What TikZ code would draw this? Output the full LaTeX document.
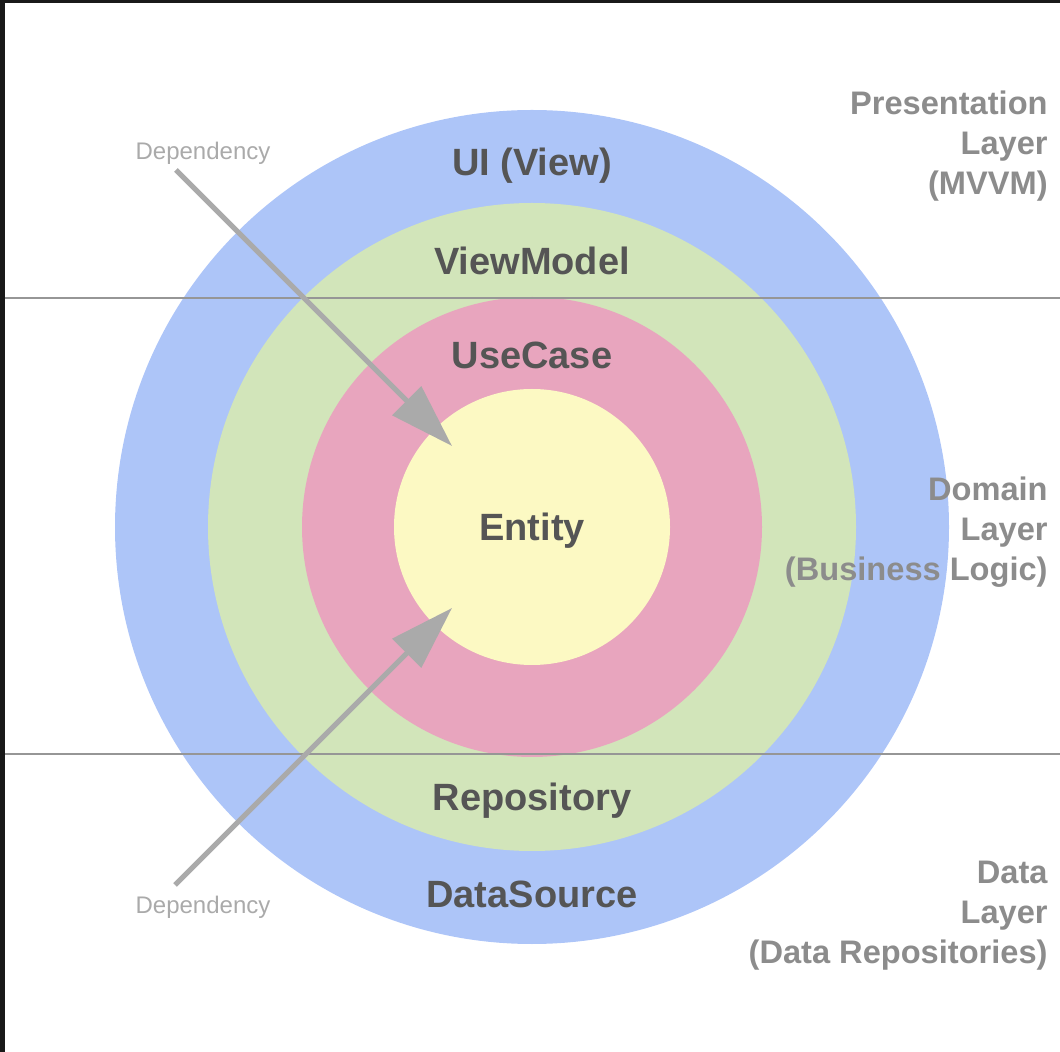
\documentclass[tikz,border=0pt]{standalone}
\usepackage{fontspec}
\setmainfont{Liberation Sans}
\usepackage{xcolor}
\usepackage{tikz}
\usetikzlibrary{arrows.meta,positioning}
\definecolor{ringblue}{RGB}{173,197,248}
\definecolor{ringgreen}{RGB}{210,229,186}
\definecolor{ringpink}{RGB}{232,165,190}
\definecolor{ringyellow}{RGB}{252,249,195}
\definecolor{labelgray}{RGB}{85,85,85}
\definecolor{layergray}{RGB}{140,140,140}
\definecolor{depgray}{RGB}{170,170,170}
\definecolor{rulegray}{RGB}{150,150,150}

\begin{document}
\begin{tikzpicture}[x=0.5pt,y=0.5pt,
  ring/.style={circle,draw=none,inner sep=0pt},
  ringlabel/.style={font=\bfseries\fontsize{19}{22}\selectfont,text=labelgray},
  layerlabel/.style={font=\bfseries\fontsize{16.3}{20}\selectfont,text=layergray,align=right,anchor=east,inner sep=0pt},
  deplabel/.style={font=\fontsize{12}{14}\selectfont,text=depgray},
  dep/.style={depgray,line width=2.5pt,-{Triangle[length=32pt,width=20pt]}}]
  \useasboundingbox (0,0) rectangle (1060,-1052);
  % frame edges
  \fill[black!90] (0,0) rectangle (1060,-3);
  \fill[black!90] (0,0) rectangle (5,-1052);
  % rings
  \node[ring,fill=ringblue,minimum size=417pt] (outer) at (532,-527) {};
  \node[ring,fill=ringgreen,minimum size=324pt] (second) at (532,-527) {};
  \node[ring,fill=ringpink,minimum size=230pt] (third) at (532,-527) {};
  \node[ring,fill=ringyellow,minimum size=138pt] (core) at (532,-527) {};
  % ring labels
  \node[ringlabel] (ui) at (532,-166) {UI (View)};
  \node[ringlabel] (vm) at (532,-261) {ViewModel};
  \node[ringlabel] (uc) at (532,-355) {UseCase};
  \node[ringlabel] (entity) at (532,-531) {Entity};
  \node[ringlabel] (repo) at (532,-801) {Repository};
  \node[ringlabel] (ds) at (532,-894) {DataSource};
  % layer borders
  \coordinate (topL) at (5,-298);
  \coordinate (topR) at (1060,-298);
  \coordinate (botL) at (5,-754);
  \coordinate (botR) at (1060,-754);
  \draw[rulegray,line width=1pt] (topL) -- (topR);
  \draw[rulegray,line width=1pt] (botL) -- (botR);
  % layer names
  \node[layerlabel] (pres) at (1048,-146) {Presentation\\Layer\\(MVVM)};
  \node[layerlabel] (dom) at (1048,-532) {Domain\\Layer\\(Business Logic)};
  \node[layerlabel] (data) at (1048,-916) {Data\\Layer\\(Data Repositories)};
  % dependency arrows
  \node[deplabel] (depA) at (203,-153) {Dependency};
  \node[deplabel] (depB) at (203,-907) {Dependency};
  \coordinate (startA) at (176,-170);
  \coordinate (tipA) at (452,-446);
  \coordinate (startB) at (175,-885);
  \coordinate (tipB) at (452,-608);
  \draw[dep] (startA) -- (tipA);
  \draw[dep] (startB) -- (tipB);
\end{tikzpicture}
\end{document}
